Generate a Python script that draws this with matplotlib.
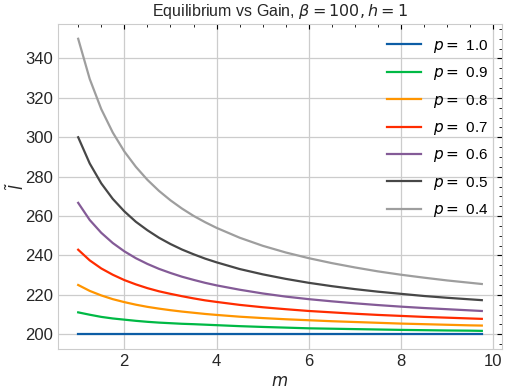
import matplotlib
matplotlib.use("Agg")
import matplotlib.pyplot as plt
from matplotlib.ticker import AutoMinorLocator

# gain values m (shared x grid)
m = [1, 1.25, 1.5, 1.75, 2, 2.25, 2.5, 2.75, 3, 3.25, 3.5, 3.75, 4,
     4.5, 5, 5.5, 6, 6.5, 7, 7.5, 8, 8.5, 9, 9.5, 9.75]

# equilibrium l~ for each p
l_p10 = [200] * 25
l_p09 = [211.1, 209.9, 208.8, 208.0, 207.4, 206.8, 206.3, 205.9, 205.6, 205.3, 205.1, 204.85, 204.6,
         204.1, 203.7, 203.35, 203.0, 202.8, 202.6, 202.4, 202.2, 202.05, 201.9, 201.8, 201.7]
l_p08 = [225.0, 222.0, 219.7, 217.8, 216.3, 215.0, 213.9, 213.0, 212.2, 211.5, 210.9, 210.3, 209.8,
         208.9, 208.2, 207.6, 207.1, 206.6, 206.2, 205.8, 205.4, 205.1, 204.8, 204.5, 204.4]
l_p07 = [242.9, 237.5, 233.4, 230.2, 227.5, 225.3, 223.4, 221.8, 220.5, 219.3, 218.2, 217.2, 216.4,
         214.9, 213.7, 212.7, 211.8, 211.1, 210.4, 209.8, 209.3, 208.8, 208.4, 208.0, 207.8]
l_p06 = [266.7, 258.0, 251.5, 246.3, 242.1, 238.6, 235.7, 233.2, 231.1, 229.2, 227.6, 226.1, 224.8,
         222.6, 220.7, 219.1, 217.8, 216.7, 215.7, 214.8, 214.0, 213.3, 212.7, 212.1, 211.8]
l_p05 = [300.0, 286.7, 276.6, 268.7, 262.4, 257.1, 252.8, 249.0, 245.8, 243.0, 240.6, 238.4, 236.5,
         233.1, 230.4, 228.1, 226.1, 224.4, 222.9, 221.6, 220.5, 219.4, 218.5, 217.7, 217.3]
l_p04 = [350.0, 329.6, 314.3, 302.4, 292.8, 285.0, 278.4, 272.8, 268.0, 263.8, 260.1, 256.9, 254.0,
         249.0, 244.9, 241.5, 238.6, 236.1, 233.9, 231.9, 230.2, 228.7, 227.3, 226.1, 225.5]

p_values = [1.0, 0.9, 0.8, 0.7, 0.6, 0.5, 0.4]
series = [l_p10, l_p09, l_p08, l_p07, l_p06, l_p05, l_p04]
colors = ["#0C5DA5", "#00B945", "#FF9500", "#FF2C00", "#845B97", "#474747", "#9e9e9e"]

plt.rcParams["font.family"] = ["Liberation Sans", "DejaVu Sans"]
plt.rcParams["mathtext.fontset"] = "dejavusans"

fig = plt.figure(figsize=(5.07, 3.9), dpi=100)
ax = fig.add_axes([58 / 507, 1 - 349 / 390, (502 - 58) / 507, (349 - 24) / 390])

for p, l, c in zip(p_values, series, colors):
    ax.plot(m, l, color=c, lw=1.6, label=f"$p = $ {p}")

ax.set_title(r"Equilibrium vs Gain, $\beta = 100, h = 1$", fontsize=11.5, color="#262626")
ax.set_xlabel("$m$", fontsize=12, color="#262626")
ax.set_ylabel(r"$\tilde{l}$", fontsize=12, color="#262626")
ax.yaxis.set_label_coords(-0.07, 0.5)

ax.set_xticks([2, 4, 6, 8, 10])
ax.set_yticks(range(200, 341, 20))
ax.grid(True, color="#cccccc", lw=0.9)
ax.set_axisbelow(True)
for s in ax.spines.values():
    s.set_color("#cccccc")

ax.xaxis.set_minor_locator(AutoMinorLocator())
ax.yaxis.set_minor_locator(AutoMinorLocator())
ax.tick_params(which="both", direction="in", top=True, right=True, left=False, bottom=False,
               labelsize=12, labelcolor="#262626", color="black")
ax.tick_params(which="major", length=3.5, width=0.8)
ax.tick_params(which="minor", length=2.2, width=0.6)

ax.legend(loc="upper right", frameon=False, fontsize=11, handlelength=2.2, labelspacing=0.68)

fig.savefig("out.png", dpi=100)
